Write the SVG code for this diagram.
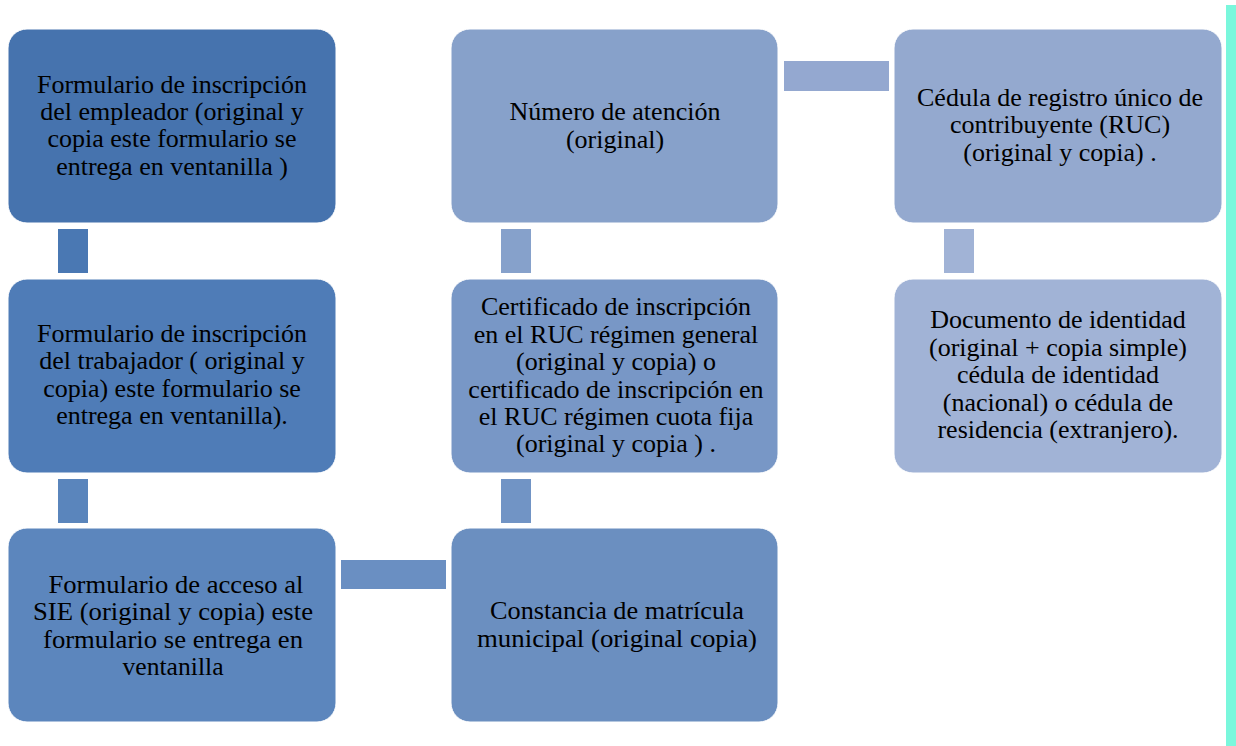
<svg xmlns="http://www.w3.org/2000/svg" width="1236" height="746" viewBox="0 0 1236 746">
<style>
.box{stroke:#ffffff;stroke-width:1}
.t{font-family:"Liberation Serif","Times New Roman",serif;font-size:26px;fill:#000000;text-anchor:middle}
</style>
<rect x="0" y="0" width="1236" height="746" fill="#ffffff"/>
<rect id="sidebar" x="1226" y="5" width="10" height="741" fill="#7AF7DC"/>
<g id="connectors">
<rect x="58" y="229" width="30" height="44" fill="#4A78B3"/>
<rect x="58" y="479" width="30" height="44" fill="#5A85BC"/>
<rect x="341" y="560" width="105" height="29" fill="#6A8FC2"/>
<rect x="501" y="479" width="30" height="44" fill="#7194C5"/>
<rect x="501" y="229" width="30" height="44" fill="#86A1CB"/>
<rect x="784" y="61" width="105" height="30" fill="#94A8D0"/>
<rect x="944" y="229" width="30" height="44" fill="#A1B3D6"/>
</g>
<g id="n1">
<rect class="box" x="8" y="29" width="328" height="194" rx="19" fill="#4673AE"/>
<text class="t" x="172" y="92.7">Formulario de inscripción</text>
<text class="t" x="172" y="120">del empleador (original y</text>
<text class="t" x="172" y="147.3">copia este formulario se</text>
<text class="t" x="172" y="175">entrega en ventanilla )</text>
</g>
<g id="n2">
<rect class="box" x="8" y="279" width="328" height="194" rx="19" fill="#4F7CB7"/>
<text class="t" x="172" y="341.7">Formulario de inscripción</text>
<text class="t" x="172" y="369.3">del trabajador ( original y</text>
<text class="t" x="172" y="396.7">copia) este formulario se</text>
<text class="t" x="172" y="424">entrega en ventanilla).</text>
</g>
<g id="n3">
<rect class="box" x="8" y="528" width="328" height="194" rx="19" fill="#5C86BD"/>
<text class="t" x="176" y="592.7" textLength="255" lengthAdjust="spacingAndGlyphs">Formulario de acceso al</text>
<text class="t" x="173" y="620" textLength="280" lengthAdjust="spacingAndGlyphs">SIE (original y copia) este</text>
<text class="t" x="173" y="647.7" textLength="260" lengthAdjust="spacingAndGlyphs">formulario se entrega en</text>
<text class="t" x="173" y="674.7" textLength="101" lengthAdjust="spacingAndGlyphs">ventanilla</text>
</g>
<g id="n4">
<rect class="box" x="451" y="528" width="327" height="194" rx="19" fill="#6B8FC0"/>
<text class="t" x="617" y="619.3" textLength="254" lengthAdjust="spacingAndGlyphs">Constancia de matrícula</text>
<text class="t" x="617" y="646.7" textLength="280" lengthAdjust="spacingAndGlyphs">municipal (original copia)</text>
</g>
<g id="n5">
<rect class="box" x="451" y="29" width="327" height="194" rx="19" fill="#87A1CA"/>
<text class="t" x="615" y="120">Número de atención</text>
<text class="t" x="615" y="147.7">(original)</text>
</g>
<g id="n6">
<rect class="box" x="451" y="279" width="327" height="194" rx="19" fill="#7897C6"/>
<text class="t" x="616" y="315">Certificado de inscripción</text>
<text class="t" x="616" y="342.7">en el RUC régimen general</text>
<text class="t" x="616" y="370">(original y copia) o</text>
<text class="t" x="616" y="397.7">certificado de inscripción en</text>
<text class="t" x="616" y="425">el RUC régimen cuota fija</text>
<text class="t" x="616" y="452.3">(original y copia ) .</text>
</g>
<g id="n7">
<rect class="box" x="894" y="29" width="328" height="194" rx="19" fill="#94A9CF"/>
<text class="t" x="1060" y="106">Cédula de registro único de</text>
<text class="t" x="1060" y="133.3">contribuyente (RUC)</text>
<text class="t" x="1060" y="161">(original y copia) .</text>
</g>
<g id="n8">
<rect class="box" x="894" y="279" width="328" height="194" rx="19" fill="#A1B3D6"/>
<text class="t" x="1058" y="328.3">Documento de identidad</text>
<text class="t" x="1058" y="356">(original + copia simple)</text>
<text class="t" x="1058" y="383.3">cédula de identidad</text>
<text class="t" x="1058" y="410.7">(nacional) o cédula de</text>
<text class="t" x="1058" y="438.3">residencia (extranjero).</text>
</g>
</svg>
